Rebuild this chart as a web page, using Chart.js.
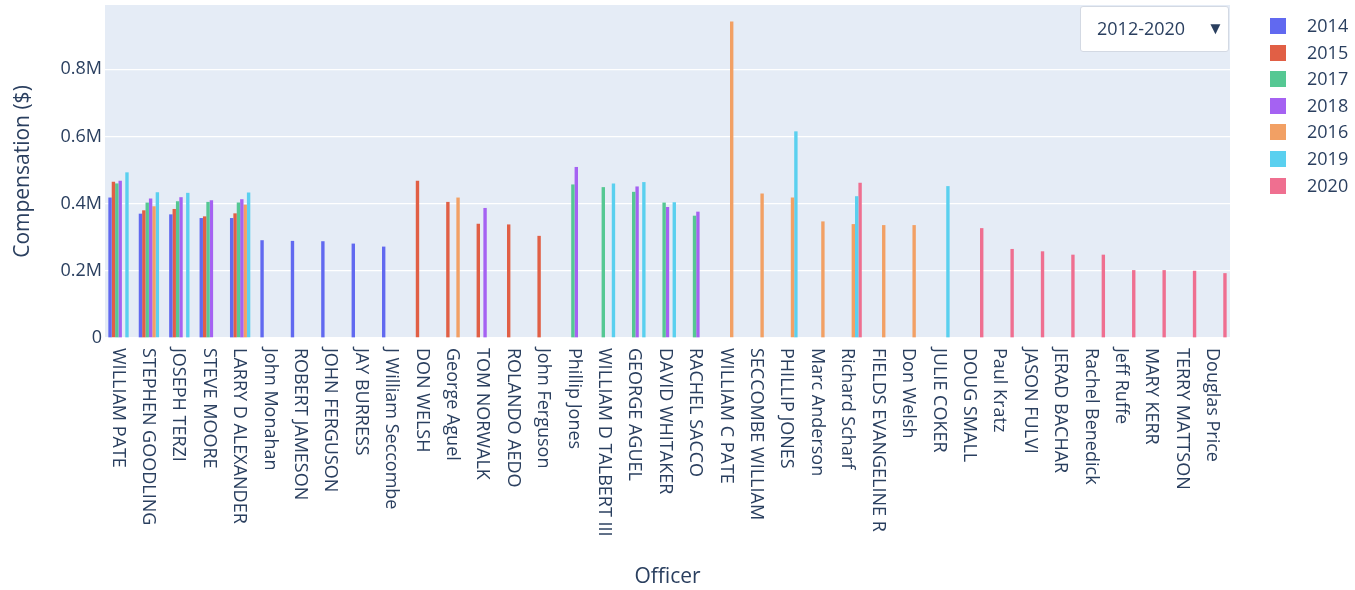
<!DOCTYPE html>
<html>
<head>
<meta charset="utf-8">
<script src="https://cdn.jsdelivr.net/npm/chart.js@4.4.1/dist/chart.umd.min.js"></script>
<style>
  body { margin: 0; background: #fff; font-family: "Open Sans", sans-serif; }
  #wrap { position: relative; width: 1355px; height: 590px; }
  #dropdown {
    position: absolute; left: 1080px; top: 6px; width: 147px; height: 44px;
    background: #fff; border: 1px solid #d3d9e3; border-radius: 3px;
    color: #2a3f5f; font-size: 18px; box-sizing: content-box;
  }
  #dropdown .txt { position: absolute; left: 16px; top: 9px; }
  #dropdown .arr { position: absolute; left: 126px; top: 9px; font-size: 17px; }
  #legend { position: absolute; left: 1270px; top: 17px; color: #2a3f5f; font-size: 18px; }
  #legend .item { height: 26.6px; position: relative; }
  #legend .sw { position: absolute; left: 0; top: 1px; width: 16px; height: 16px; }
  #legend .lb { position: absolute; left: 37px; top: -4px; }
</style>
</head>
<body>
<div id="wrap">
  <canvas id="compChart"></canvas>
  <div id="dropdown"><span class="txt">2012-2020</span><span class="arr">▼</span></div>
  <div id="legend"></div>
</div>
<script>
// officers (x categories)
const officers = [
    'WILLIAM PATE', 'STEPHEN GOODLING', 'JOSEPH TERZI', 'STEVE MOORE', 'LARRY D ALEXANDER',
    'John Monahan', 'ROBERT JAMESON', 'JOHN FERGUSON', 'JAY BURRESS', 'J William Seccombe',
    'DON WELSH', 'George Aguel', 'TOM NORWALK', 'ROLANDO AEDO', 'John Ferguson',
    'Phillip Jones', 'WILLIAM D TALBERT III', 'GEORGE AGUEL', 'DAVID WHITAKER', 'RACHEL SACCO',
    'WILLIAM C PATE', 'SECCOMBE WILLIAM', 'PHILLIP JONES', 'Marc Anderson', 'Richard Scharf',
    'FIELDS EVANGELINE R', 'Don Welsh', 'JULIE COKER', 'DOUG SMALL', 'Paul Kratz',
    'JASON FULVI', 'JERAD BACHAR', 'Rachel Benedick', 'Jeff Ruffe', 'MARY KERR',
    'TERRY MATTSON', 'Douglas Price'
];

const years = ['2014', '2015', '2017', '2018', '2016', '2019', '2020'];
const colors = ['#6169f0', '#e15f45', '#55c893', '#a562f2', '#f2a064', '#5ad0ef', '#ef6f90'];

// compensation per year, in dollars (null = no record)
const comp2014 = [418000, 370000, 368000, 357000, 357000, 291000, 289000, 288000, 281000, 272000,
    null, null, null, null, null, null, null, null, null, null,
    null, null, null, null, null, null, null, null, null, null,
    null, null, null, null, null, null, null];
const comp2015 = [465000, 380000, 384000, 362000, 371000, null, null, null, null, null,
    468000, 405000, 340000, 338000, 304000, null, null, null, null, null,
    null, null, null, null, null, null, null, null, null, null,
    null, null, null, null, null, null, null];
const comp2017 = [460000, 403000, 407000, 405000, 403000, null, null, null, null, null,
    null, null, null, null, null, 457000, 449000, 435000, 403000, 364000,
    null, null, null, null, null, null, null, null, null, null,
    null, null, null, null, null, null, null];
const comp2018 = [468000, 415000, 419000, 410000, 413000, null, null, null, null, null,
    null, null, 387000, null, null, 509000, null, 451000, 390000, 376000,
    null, null, null, null, null, null, null, null, null, null,
    null, null, null, null, null, null, null];
const comp2016 = [null, 392000, null, null, 397000, null, null, null, null, null,
    null, 418000, null, null, null, null, null, null, null, null,
    942000, 430000, 418000, 347000, 339000, 336000, 336000, null, null, null,
    null, null, null, null, null, null, null];
const comp2019 = [493000, 434000, 432000, null, 433000, null, null, null, null, null,
    null, null, null, null, null, null, 460000, 464000, 404000, null,
    null, null, 615000, null, 422000, null, null, 452000, null, null,
    null, null, null, null, null, null, null];
const comp2020 = [null, null, null, null, null, null, null, null, null, null,
    null, null, null, null, null, null, null, null, null, null,
    null, null, null, null, 462000, null, null, null, 327000, 265000,
    258000, 248000, 248000, 202000, 202000, 200000, 193000];

const seriesValues = [comp2014, comp2015, comp2017, comp2018, comp2016, comp2019, comp2020];

// y axis ticks
const yTickValues = [0, 200000, 400000, 600000, 800000];
const yTickText = ['0', '0.2M', '0.4M', '0.6M', '0.8M'];

const textColor = '#2a3f5f';
const fontFamily = '"Open Sans", sans-serif';

// plot background like plotly
const plotBg = {
    id: 'plotBg',
    beforeDraw(chart) {
        const { ctx, chartArea: a } = chart;
        ctx.save();
        ctx.fillStyle = '#e5ecf6';
        ctx.fillRect(a.left, a.top, a.right - a.left, a.bottom - a.top);
        ctx.restore();
    }
};

// x labels rotated clockwise, reading top to bottom
const xLabels = {
    id: 'xLabels',
    afterDraw(chart) {
        const { ctx, chartArea, scales } = chart;
        ctx.save();
        ctx.font = '18px ' + fontFamily;
        ctx.fillStyle = textColor;
        ctx.textAlign = 'left';
        ctx.textBaseline = 'middle';
        officers.forEach((name, i) => {
            const px = scales.x.getPixelForValue(i);
            ctx.save();
            ctx.translate(px - 2.5, chartArea.bottom + 10);
            ctx.rotate(Math.PI / 2);
            ctx.fillText(name, 0, 0);
            ctx.restore();
        });
        ctx.restore();
    }
};

function buildLegend() {
    const el = document.getElementById('legend');
    years.forEach((y, i) => {
        const item = document.createElement('div');
        item.className = 'item';
        item.innerHTML = '<span class="sw" style="background:' + colors[i] + '"></span><span class="lb">' + y + '</span>';
        el.appendChild(item);
    });
}

document.addEventListener("DOMContentLoaded", function () {
    buildLegend();
    const ctx = document.getElementById('compChart').getContext('2d');

    new Chart(ctx, {
        type: 'bar',
        data: {
            labels: officers,
            datasets: years.map((y, i) => ({
                label: y,
                data: seriesValues[i],
                backgroundColor: colors[i],
                borderWidth: 0,
                categoryPercentage: 0.78,
                barPercentage: 1.0
            }))
        },
        options: {
            responsive: true,
            maintainAspectRatio: false,
            animation: false,
            layout: { padding: { top: 5, right: 125, left: 0, bottom: 0 } },
            plugins: {
                legend: { display: false },
                tooltip: { enabled: false }
            },
            scales: {
                x: {
                    grid: { display: false },
                    border: { display: false },
                    ticks: { display: false },
                    title: {
                        display: true,
                        text: 'Officer',
                        color: textColor,
                        font: { family: fontFamily, size: 21 },
                        padding: { top: 0, bottom: 0 }
                    },
                    afterFit(scale) { scale.height = 252; }
                },
                y: {
                    min: 0,
                    max: 991000,
                    grid: { color: '#ffffff', lineWidth: 1.3, drawTicks: false },
                    border: { display: false },
                    ticks: {
                        autoSkip: false,
                        padding: 3,
                        color: textColor,
                        font: { family: fontFamily, size: 18 },
                        callback: (v, i) => yTickText[i]
                    },
                    afterBuildTicks(scale) {
                        scale.ticks = yTickValues.map(v => ({ value: v }));
                    },
                    title: {
                        display: true,
                        text: 'Compensation ($)',
                        color: textColor,
                        font: { family: fontFamily, size: 21 },
                        padding: { top: 10, bottom: 0 }
                    },
                    afterFit(scale) {
                        scale.width = 105;
                        scale.paddingTop = 0;
                    }
                }
            }
        },
        plugins: [plotBg, xLabels]
    });
});
</script>
</body>
</html>
